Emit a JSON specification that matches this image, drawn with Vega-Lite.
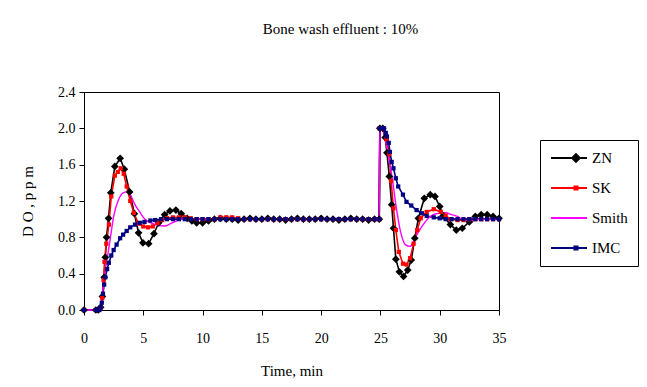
{
  "$schema": "https://vega.github.io/schema/vega-lite/v6.json",
  "width": 415,
  "height": 218,
  "autosize": {"type": "none"},
  "padding": {"left": 84, "top": 92, "right": 148, "bottom": 77},
  "background": "#ffffff",
  "title": {
    "text": "Bone wash effluent : 10%",
    "font": "Liberation Serif",
    "fontSize": 15,
    "fontWeight": "normal",
    "color": "#000000",
    "anchor": "middle",
    "dx": 49,
    "offset": 48
  },
  "config": {
    "font": "Liberation Serif",
    "view": {"stroke": "#000000", "strokeWidth": 1},
    "axis": {
      "labelFont": "Liberation Serif",
      "labelFontSize": 14,
      "labelColor": "#000000",
      "titleFont": "Liberation Serif",
      "titleFontSize": 15,
      "titleFontWeight": "normal",
      "titleColor": "#000000",
      "domainColor": "#000000",
      "tickColor": "#000000",
      "grid": false,
      "tickSize": 5
    },
    "legend": {"labelFont": "Liberation Serif", "labelFontSize": 15, "labelColor": "#000000"}
  },
  "data": {
    "values": [
      {"s":"ZN","t":0,"v":0},{"s":"ZN","t":1.0,"v":0},{"s":"ZN","t":1.2,"v":0},{"s":"ZN","t":1.4,"v":0.03},{"s":"ZN","t":1.55,"v":0.15},{"s":"ZN","t":1.7,"v":0.36},{"s":"ZN","t":1.8,"v":0.58},{"s":"ZN","t":1.9,"v":0.8},{"s":"ZN","t":2.07,"v":1.01},{"s":"ZN","t":2.26,"v":1.29},{"s":"ZN","t":2.6,"v":1.58},{"s":"ZN","t":3.05,"v":1.67},{"s":"ZN","t":3.4,"v":1.55},{"s":"ZN","t":3.85,"v":1.3},{"s":"ZN","t":4.25,"v":1.06},{"s":"ZN","t":4.6,"v":0.85},{"s":"ZN","t":4.97,"v":0.74},{"s":"ZN","t":5.45,"v":0.73},{"s":"ZN","t":5.9,"v":0.84},{"s":"ZN","t":6.3,"v":0.96},{"s":"ZN","t":6.8,"v":1.05},{"s":"ZN","t":7.25,"v":1.09},{"s":"ZN","t":7.75,"v":1.1},{"s":"ZN","t":8.2,"v":1.06},{"s":"ZN","t":8.7,"v":1.01},{"s":"ZN","t":9.1,"v":0.98},{"s":"ZN","t":9.5,"v":0.96},{"s":"ZN","t":10.0,"v":0.96},{"s":"ZN","t":10.5,"v":0.98},{"s":"ZN","t":11.0,"v":1.0},{"s":"ZN","t":11.5,"v":1.01},{"s":"ZN","t":12,"v":1.0},{"s":"ZN","t":12.5,"v":1.0},{"s":"ZN","t":13,"v":0.99},{"s":"ZN","t":13.5,"v":1.0},{"s":"ZN","t":14,"v":1.01},{"s":"ZN","t":14.5,"v":1.0},{"s":"ZN","t":15,"v":1.0},{"s":"ZN","t":15.5,"v":1.01},{"s":"ZN","t":16,"v":1.0},{"s":"ZN","t":16.5,"v":1.0},{"s":"ZN","t":17,"v":0.99},{"s":"ZN","t":17.5,"v":1.0},{"s":"ZN","t":18,"v":1.01},{"s":"ZN","t":18.5,"v":1.0},{"s":"ZN","t":19,"v":1.0},{"s":"ZN","t":19.5,"v":1.0},{"s":"ZN","t":20,"v":1.01},{"s":"ZN","t":20.5,"v":1.0},{"s":"ZN","t":21,"v":1.0},{"s":"ZN","t":21.5,"v":0.99},{"s":"ZN","t":22,"v":1.0},{"s":"ZN","t":22.5,"v":1.01},{"s":"ZN","t":23,"v":1.0},{"s":"ZN","t":23.5,"v":1.0},{"s":"ZN","t":24,"v":0.99},{"s":"ZN","t":24.5,"v":1.0},{"s":"ZN","t":24.9,"v":1.0},{"s":"ZN","t":24.95,"v":2.0},{"s":"ZN","t":25.2,"v":2.0},{"s":"ZN","t":25.4,"v":1.9},{"s":"ZN","t":25.55,"v":1.73},{"s":"ZN","t":25.75,"v":1.47},{"s":"ZN","t":25.95,"v":1.16},{"s":"ZN","t":26.1,"v":0.9},{"s":"ZN","t":26.3,"v":0.56},{"s":"ZN","t":26.6,"v":0.42},{"s":"ZN","t":26.95,"v":0.37},{"s":"ZN","t":27.3,"v":0.44},{"s":"ZN","t":27.6,"v":0.55},{"s":"ZN","t":27.9,"v":0.79},{"s":"ZN","t":28.2,"v":1.01},{"s":"ZN","t":28.7,"v":1.23},{"s":"ZN","t":29.2,"v":1.27},{"s":"ZN","t":29.6,"v":1.25},{"s":"ZN","t":30.0,"v":1.14},{"s":"ZN","t":30.3,"v":1.04},{"s":"ZN","t":30.9,"v":0.94},{"s":"ZN","t":31.4,"v":0.88},{"s":"ZN","t":31.9,"v":0.9},{"s":"ZN","t":32.5,"v":0.97},{"s":"ZN","t":33.0,"v":1.03},{"s":"ZN","t":33.5,"v":1.05},{"s":"ZN","t":34.0,"v":1.05},{"s":"ZN","t":34.5,"v":1.03},{"s":"ZN","t":35.0,"v":1.01},

      {"s":"SK","t":0,"v":0},{"s":"SK","t":1.0,"v":0},{"s":"SK","t":1.2,"v":0},{"s":"SK","t":1.4,"v":0.02},{"s":"SK","t":1.54,"v":0.13},{"s":"SK","t":1.65,"v":0.33},{"s":"SK","t":1.73,"v":0.53},{"s":"SK","t":1.88,"v":0.73},{"s":"SK","t":2.1,"v":0.94},{"s":"SK","t":2.3,"v":1.25},{"s":"SK","t":2.6,"v":1.48},{"s":"SK","t":2.85,"v":1.52},{"s":"SK","t":3.1,"v":1.56},{"s":"SK","t":3.35,"v":1.5},{"s":"SK","t":3.6,"v":1.36},{"s":"SK","t":3.9,"v":1.2},{"s":"SK","t":4.2,"v":1.07},{"s":"SK","t":4.6,"v":0.95},{"s":"SK","t":5.0,"v":0.92},{"s":"SK","t":5.4,"v":0.91},{"s":"SK","t":5.8,"v":0.92},{"s":"SK","t":6.2,"v":0.96},{"s":"SK","t":6.6,"v":0.99},{"s":"SK","t":7.0,"v":1.01},{"s":"SK","t":7.5,"v":1.02},{"s":"SK","t":8.0,"v":1.02},{"s":"SK","t":8.5,"v":1.02},{"s":"SK","t":9.0,"v":1.01},{"s":"SK","t":9.5,"v":1.0},{"s":"SK","t":10,"v":1.0},{"s":"SK","t":10.5,"v":1.0},{"s":"SK","t":11,"v":1.0},{"s":"SK","t":11.5,"v":1.02},{"s":"SK","t":12,"v":1.02},{"s":"SK","t":12.5,"v":1.02},{"s":"SK","t":13,"v":1.01},{"s":"SK","t":13.5,"v":1.0},{"s":"SK","t":14,"v":1.0},{"s":"SK","t":14.5,"v":1.0},{"s":"SK","t":15,"v":1.0},{"s":"SK","t":15.5,"v":1.0},{"s":"SK","t":16,"v":1.0},{"s":"SK","t":16.5,"v":1.0},{"s":"SK","t":17,"v":1.0},{"s":"SK","t":17.5,"v":1.0},{"s":"SK","t":18,"v":1.0},{"s":"SK","t":18.5,"v":1.0},{"s":"SK","t":19,"v":1.0},{"s":"SK","t":19.5,"v":1.0},{"s":"SK","t":20,"v":1.0},{"s":"SK","t":20.5,"v":1.0},{"s":"SK","t":21,"v":1.0},{"s":"SK","t":21.5,"v":1.0},{"s":"SK","t":22,"v":1.0},{"s":"SK","t":22.5,"v":1.0},{"s":"SK","t":23,"v":1.0},{"s":"SK","t":23.5,"v":1.0},{"s":"SK","t":24,"v":1.0},{"s":"SK","t":24.5,"v":1.0},{"s":"SK","t":24.9,"v":1.0},{"s":"SK","t":24.95,"v":2.0},{"s":"SK","t":25.2,"v":2.0},{"s":"SK","t":25.5,"v":1.88},{"s":"SK","t":25.75,"v":1.72},{"s":"SK","t":25.9,"v":1.42},{"s":"SK","t":26.1,"v":1.12},{"s":"SK","t":26.3,"v":0.88},{"s":"SK","t":26.55,"v":0.64},{"s":"SK","t":26.9,"v":0.51},{"s":"SK","t":27.2,"v":0.5},{"s":"SK","t":27.5,"v":0.57},{"s":"SK","t":27.8,"v":0.73},{"s":"SK","t":28.1,"v":0.88},{"s":"SK","t":28.4,"v":1.01},{"s":"SK","t":28.9,"v":1.08},{"s":"SK","t":29.5,"v":1.11},{"s":"SK","t":30.1,"v":1.08},{"s":"SK","t":30.5,"v":1.04},{"s":"SK","t":30.9,"v":1.0},{"s":"SK","t":31.5,"v":0.99},{"s":"SK","t":32,"v":0.99},{"s":"SK","t":32.5,"v":1.0},{"s":"SK","t":33,"v":1.0},{"s":"SK","t":33.5,"v":1.0},{"s":"SK","t":34,"v":1.0},{"s":"SK","t":34.5,"v":1.0},{"s":"SK","t":35,"v":1.0},

      {"s":"Smith","t":0,"v":0},{"s":"Smith","t":1.0,"v":0},{"s":"Smith","t":1.3,"v":0},{"s":"Smith","t":1.5,"v":0.1},{"s":"Smith","t":1.65,"v":0.29},{"s":"Smith","t":1.85,"v":0.48},{"s":"Smith","t":2.07,"v":0.66},{"s":"Smith","t":2.3,"v":0.86},{"s":"Smith","t":2.5,"v":1.03},{"s":"Smith","t":2.9,"v":1.21},{"s":"Smith","t":3.3,"v":1.29},{"s":"Smith","t":3.6,"v":1.3},{"s":"Smith","t":3.9,"v":1.27},{"s":"Smith","t":4.3,"v":1.16},{"s":"Smith","t":4.7,"v":1.08},{"s":"Smith","t":5.0,"v":1.02},{"s":"Smith","t":5.3,"v":0.98},{"s":"Smith","t":5.8,"v":0.95},{"s":"Smith","t":6.3,"v":0.93},{"s":"Smith","t":6.8,"v":0.925},{"s":"Smith","t":7.3,"v":0.95},{"s":"Smith","t":7.8,"v":0.98},{"s":"Smith","t":8.3,"v":1.0},{"s":"Smith","t":10,"v":1.0},{"s":"Smith","t":15,"v":1.0},{"s":"Smith","t":20,"v":1.0},{"s":"Smith","t":24.9,"v":1.0},{"s":"Smith","t":24.95,"v":2.0},{"s":"Smith","t":25.2,"v":2.0},{"s":"Smith","t":25.45,"v":1.85},{"s":"Smith","t":25.7,"v":1.67},{"s":"Smith","t":26.0,"v":1.45},{"s":"Smith","t":26.3,"v":1.16},{"s":"Smith","t":26.7,"v":0.86},{"s":"Smith","t":27.1,"v":0.72},{"s":"Smith","t":27.5,"v":0.7},{"s":"Smith","t":27.9,"v":0.79},{"s":"Smith","t":28.5,"v":0.92},{"s":"Smith","t":29.2,"v":1.03},{"s":"Smith","t":29.7,"v":1.06},{"s":"Smith","t":30.5,"v":1.07},{"s":"Smith","t":31.0,"v":1.05},{"s":"Smith","t":31.5,"v":1.03},{"s":"Smith","t":32,"v":0.99},{"s":"Smith","t":32.5,"v":0.98},{"s":"Smith","t":33,"v":0.99},{"s":"Smith","t":33.5,"v":1.0},{"s":"Smith","t":35,"v":1.0},

      {"s":"IMC","t":0,"v":0},{"s":"IMC","t":1.0,"v":0},{"s":"IMC","t":1.1,"v":0},{"s":"IMC","t":1.2,"v":0},{"s":"IMC","t":1.3,"v":0},{"s":"IMC","t":1.4,"v":0.03},{"s":"IMC","t":1.5,"v":0.08},{"s":"IMC","t":1.6,"v":0.18},{"s":"IMC","t":1.7,"v":0.28},{"s":"IMC","t":1.8,"v":0.36},{"s":"IMC","t":1.95,"v":0.45},{"s":"IMC","t":2.1,"v":0.52},{"s":"IMC","t":2.3,"v":0.6},{"s":"IMC","t":2.5,"v":0.66},{"s":"IMC","t":2.75,"v":0.72},{"s":"IMC","t":3.05,"v":0.79},{"s":"IMC","t":3.3,"v":0.83},{"s":"IMC","t":3.6,"v":0.87},{"s":"IMC","t":3.9,"v":0.91},{"s":"IMC","t":4.3,"v":0.94},{"s":"IMC","t":4.7,"v":0.96},{"s":"IMC","t":5.1,"v":0.97},{"s":"IMC","t":5.6,"v":0.985},{"s":"IMC","t":6.0,"v":0.99},{"s":"IMC","t":6.5,"v":1.0},{"s":"IMC","t":7,"v":1.0},{"s":"IMC","t":7.5,"v":1.0},{"s":"IMC","t":8,"v":1.0},{"s":"IMC","t":8.5,"v":1.0},{"s":"IMC","t":9,"v":1.0},{"s":"IMC","t":9.5,"v":1.0},{"s":"IMC","t":10,"v":1.0},{"s":"IMC","t":10.5,"v":1.0},{"s":"IMC","t":11,"v":1.0},{"s":"IMC","t":11.5,"v":1.0},{"s":"IMC","t":12,"v":1.0},{"s":"IMC","t":12.5,"v":1.0},{"s":"IMC","t":13,"v":1.0},{"s":"IMC","t":13.5,"v":1.0},{"s":"IMC","t":14,"v":1.0},{"s":"IMC","t":14.5,"v":1.0},{"s":"IMC","t":15,"v":1.0},{"s":"IMC","t":15.5,"v":1.0},{"s":"IMC","t":16,"v":1.0},{"s":"IMC","t":16.5,"v":1.0},{"s":"IMC","t":17,"v":1.0},{"s":"IMC","t":17.5,"v":1.0},{"s":"IMC","t":18,"v":1.0},{"s":"IMC","t":18.5,"v":1.0},{"s":"IMC","t":19,"v":1.0},{"s":"IMC","t":19.5,"v":1.0},{"s":"IMC","t":20,"v":1.0},{"s":"IMC","t":20.5,"v":1.0},{"s":"IMC","t":21,"v":1.0},{"s":"IMC","t":21.5,"v":1.0},{"s":"IMC","t":22,"v":1.0},{"s":"IMC","t":22.5,"v":1.0},{"s":"IMC","t":23,"v":1.0},{"s":"IMC","t":23.5,"v":1.0},{"s":"IMC","t":24,"v":1.0},{"s":"IMC","t":24.5,"v":1.0},{"s":"IMC","t":24.9,"v":1.0},{"s":"IMC","t":24.95,"v":2.0},{"s":"IMC","t":25.1,"v":2.0},{"s":"IMC","t":25.3,"v":2.0},{"s":"IMC","t":25.45,"v":1.95},{"s":"IMC","t":25.55,"v":1.91},{"s":"IMC","t":25.7,"v":1.84},{"s":"IMC","t":25.8,"v":1.74},{"s":"IMC","t":25.95,"v":1.63},{"s":"IMC","t":26.1,"v":1.56},{"s":"IMC","t":26.3,"v":1.45},{"s":"IMC","t":26.5,"v":1.36},{"s":"IMC","t":26.9,"v":1.27},{"s":"IMC","t":27.2,"v":1.19},{"s":"IMC","t":27.6,"v":1.15},{"s":"IMC","t":28.05,"v":1.1},{"s":"IMC","t":28.5,"v":1.065},{"s":"IMC","t":28.9,"v":1.035},{"s":"IMC","t":29.5,"v":1.02},{"s":"IMC","t":30,"v":1.01},{"s":"IMC","t":30.5,"v":1.0},{"s":"IMC","t":31,"v":1.0},{"s":"IMC","t":31.5,"v":1.0},{"s":"IMC","t":32,"v":1.0},{"s":"IMC","t":32.5,"v":1.0},{"s":"IMC","t":33,"v":1.0},{"s":"IMC","t":33.5,"v":1.0},{"s":"IMC","t":34,"v":1.0},{"s":"IMC","t":34.5,"v":1.0},{"s":"IMC","t":35,"v":1.0}
    ]
  },
  "encoding": {
    "x": {
      "field": "t", "type": "quantitative",
      "scale": {"domain": [0, 35], "nice": false, "zero": false},
      "axis": {"values": [0, 5, 10, 15, 20, 25, 30, 35], "title": "Time, min", "labelFont": "Liberation Serif", "titleFont": "Liberation Serif", "titleFontWeight": "normal", "labelPadding": 16, "titlePadding": 18, "labelFlush": false}
    },
    "y": {
      "field": "v", "type": "quantitative",
      "scale": {"domain": [0, 2.4], "nice": false},
      "axis": {"values": [0, 0.4, 0.8, 1.2, 1.6, 2.0, 2.4], "format": ".1f", "title": "D O , p p m", "labelFont": "Liberation Serif", "titleFont": "Liberation Serif", "titleFontWeight": "normal", "labelPadding": 4, "titlePadding": 22, "labelFlush": false}
    },
    "color": {
      "field": "s", "type": "nominal",
      "scale": {"domain": ["ZN", "SK", "Smith", "IMC"], "range": ["#000000", "#FF0000", "#FF00FF", "#000080"]},
      "legend": {
        "title": null,
        "orient": "none",
        "legendX": 456,
        "legendY": 48,
        "strokeColor": "#000000",
        "fillColor": "#ffffff",
        "padding": 10,
        "labelFont": "Liberation Serif",
        "labelFontSize": 15,
        "labelColor": "#000000",
        "labelOffset": 26,
        "symbolSize": 196,
        "symbolStrokeWidth": 2,
        "rowPadding": 14,
        "symbolType": "M-1,0L4.14,0",
        "encode": {
          "symbols": {
            "update": {
              "shape": {"signal": "datum.value === 'ZN' ? 'M-1,0L4.14,0M2.57,-0.55L3.12,0L2.57,0.55L2.02,0Z' : (datum.value === 'Smith' ? 'M-1,0L4.14,0' : 'M-1,0L4.14,0M2.35,-0.22L2.79,-0.22L2.79,0.22L2.35,0.22Z')"},
              "fill": {"signal": "scale('color', datum.value)"},
              "stroke": {"signal": "scale('color', datum.value)"},
              "strokeWidth": {"value": 2},
              "opacity": {"value": 1}
            }
          }
        }
      }
    }
  },
  "layer": [
    {"transform": [{"filter": "datum.s !== 'Smith'"}], "mark": {"type": "line", "strokeWidth": 1.6}},
    {"transform": [{"filter": "datum.s === 'Smith'"}], "mark": {"type": "line", "strokeWidth": 1.4, "interpolate": "monotone"}},
    {"transform": [{"filter": "datum.s === 'ZN'"}], "mark": {"type": "point", "shape": "diamond", "filled": true, "size": 60, "opacity": 1}},
    {"transform": [{"filter": "datum.s === 'SK' || datum.s === 'IMC'"}], "mark": {"type": "point", "shape": "square", "filled": true, "size": 18, "opacity": 1}}
  ]
}
